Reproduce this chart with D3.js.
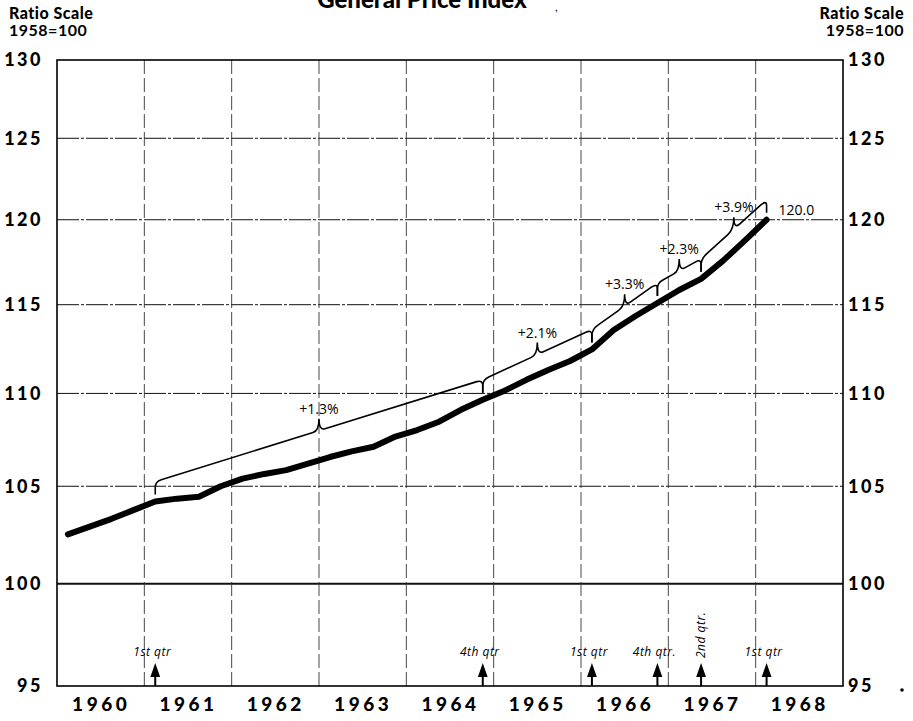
<!DOCTYPE html>
<html>
<head>
<meta charset="utf-8">
<script src="https://cdn.jsdelivr.net/npm/d3@7"></script>
<style>
body { margin: 0; background: #fff; }
svg { font-family: Lato, "Open Sans", sans-serif; }
</style>
</head>
<body>
<script>
//quarterly general price index, 1958=100
var quarters = ["1960 Q1", "1960 Q2", "1960 Q3", "1960 Q4",
                "1961 Q1", "1961 Q2", "1961 Q3", "1961 Q4",
                "1962 Q1", "1962 Q2", "1962 Q3", "1962 Q4",
                "1963 Q1", "1963 Q2", "1963 Q3", "1963 Q4",
                "1964 Q1", "1964 Q2", "1964 Q3", "1964 Q4",
                "1965 Q1", "1965 Q2", "1965 Q3", "1965 Q4",
                "1966 Q1", "1966 Q2", "1966 Q3", "1966 Q4",
                "1967 Q1", "1967 Q2", "1967 Q3", "1967 Q4",
                "1968 Q1"];
var priceIndex = [102.5, 102.9, 103.3, 103.75,
                  104.2, 104.35, 104.45, 105.0,
                  105.4, 105.65, 105.85, 106.2,
                  106.55, 106.85, 107.1, 107.65,
                  108.0, 108.45, 109.1, 109.65,
                  110.15, 110.75, 111.3, 111.8,
                  112.45, 113.55, 114.35, 115.1,
                  115.85, 116.5, 117.55, 118.75,
                  120.0];

//axis ticks
var years = [1960, 1961, 1962, 1963, 1964, 1965, 1966, 1967, 1968];
var yTicks = [95, 100, 105, 110, 115, 120, 125, 130];

//growth-rate braces
var braceFrom = ["1961 Q1", "1964 Q4", "1966 Q1", "1966 Q4", "1967 Q2"];
var braceTo = ["1964 Q4", "1966 Q1", "1966 Q4", "1967 Q2", "1968 Q1"];
var braceLabels = ["+1.3%", "+2.1%", "+3.3%", "+2.3%", "+3.9%"];

//quarter markers along the bottom
var markerQuarters = ["1961 Q1", "1964 Q4", "1966 Q1", "1966 Q4", "1967 Q2", "1968 Q1"];
var markerLabels = ["1st qtr", "4th qtr", "1st qtr", "4th qtr.", "2nd qtr.", "1st qtr"];
var lastLabel = "120.0";

//Width and height
var w = 913;
var h = 721;
var padL = 57, padR = 843, padT = 60, padB = 686;

//quarter string -> middle of the quarter in years
function qTime(q) {
    var p = q.split(" Q");
    return +p[0] + (+p[1] - 0.5) / 4;
}
function valueAt(q) {
    return priceIndex[quarters.indexOf(q)];
}

var x = d3.scaleLinear().domain([1960, 1969]).range([padL, padR]);
var y = d3.scaleLog().domain([95, 130]).range([padB, padT]);

var svg = d3.select("body")
            .append("svg")
            .attr("width", w)
            .attr("height", h);

//horizontal grid
svg.selectAll("line.hgrid")
   .data(yTicks.slice(1, -1))
   .enter()
   .append("line")
   .attr("x1", padL)
   .attr("x2", padR)
   .attr("y1", function(d) { return y(d); })
   .attr("y2", function(d) { return y(d); })
   .attr("stroke", "#111")
   .attr("stroke-width", function(d) { return d === 100 ? 2 : 1; })
   .attr("stroke-dasharray", function(d) { return d === 100 ? null : "22,2,3,2"; });

//vertical grid (year boundaries)
svg.selectAll("line.vgrid")
   .data(years.slice(1))
   .enter()
   .append("line")
   .attr("x1", function(d) { return x(d); })
   .attr("x2", function(d) { return x(d); })
   .attr("y1", padT)
   .attr("y2", padB)
   .attr("stroke", "#333")
   .attr("stroke-width", 0.9)
   .attr("stroke-dasharray", "14,4");

//frame
svg.append("rect")
   .attr("x", padL)
   .attr("y", padT)
   .attr("width", padR - padL)
   .attr("height", padB - padT)
   .attr("fill", "none")
   .attr("stroke", "#000")
   .attr("stroke-width", 1.6);

//axes
var fmt = d3.format("d");
var leftAxis = svg.append("g")
   .attr("transform", "translate(" + padL + ",0)")
   .call(d3.axisLeft(y).tickValues(yTicks).tickFormat(fmt).tickSize(0).tickPadding(14));
var rightAxis = svg.append("g")
   .attr("transform", "translate(" + padR + ",0)")
   .call(d3.axisRight(y).tickValues(yTicks).tickFormat(fmt).tickSize(0).tickPadding(5));
var bottomAxis = svg.append("g")
   .attr("transform", "translate(0," + padB + ")")
   .call(d3.axisBottom(x)
     .tickValues(years.map(function(d) { return d + 0.5; }))
     .tickFormat(function(d) { return Math.floor(d); })
     .tickSize(0).tickPadding(12));

[leftAxis, rightAxis, bottomAxis].forEach(function(g) {
    g.select(".domain").remove();
    g.selectAll("text")
     .attr("font-family", "Lato, sans-serif")
     .attr("font-weight", "900")
     .attr("font-size", "18px")
     .attr("letter-spacing", "2.5px")
     .attr("fill", "#000");
});
bottomAxis.selectAll("text")
   .attr("font-size", "19px")
   .attr("letter-spacing", "3.5px");

//headers
svg.append("text")
   .attr("x", 422).attr("y", 8)
   .attr("text-anchor", "middle")
   .attr("font-weight", "900")
   .attr("font-size", "24px")
   .text("General Price Index");
svg.append("text")
   .attr("x", 555).attr("y", 11)
   .attr("font-size", "12px")
   .text(",");

var heads = [["Ratio Scale", 19], ["1958=100", 36]];
heads.forEach(function(t, i) {
    svg.append("text")
       .attr("x", 9).attr("y", t[1])
       .attr("font-weight", i === 0 ? "900" : "700")
       .attr("font-size", "16px")
       .attr("letter-spacing", "0.5px")
       .text(t[0]);
    svg.append("text")
       .attr("x", 904).attr("y", t[1])
       .attr("text-anchor", "end")
       .attr("font-weight", i === 0 ? "900" : "700")
       .attr("font-size", "16px")
       .attr("letter-spacing", "0.5px")
       .text(t[0]);
});

//stray dot beside the right 95
svg.append("circle")
   .attr("cx", 902).attr("cy", 690).attr("r", 1.8)
   .attr("fill", "#000");

//index line
var line = d3.line()
   .x(function(d, i) { return x(qTime(quarters[i])); })
   .y(function(d) { return y(d); });

svg.append("path")
   .datum(priceIndex)
   .attr("d", line)
   .attr("fill", "none")
   .attr("stroke", "#000")
   .attr("stroke-width", 6)
   .attr("stroke-linejoin", "round")
   .attr("stroke-linecap", "round");

//braces over each period
function bracePath(x1, y1, x2, y2) {
    var t1 = y1 - 20, t2 = y2 - 20;
    var b1 = y1 - 7, b2 = y2 - 7;
    var r = Math.min(6, (x2 - x1) / 8);
    var s = (t2 - t1) / (x2 - x1);
    var xm = (x1 + x2) / 2, tm = (t1 + t2) / 2;
    var ph = 12;
    return "M" + x1 + "," + b1 +
           "L" + x1 + "," + (t1 + r) +
           "Q" + x1 + "," + t1 + " " + (x1 + r) + "," + (t1 + s * r) +
           "L" + (xm - r) + "," + (tm - s * r) +
           "Q" + xm + "," + tm + " " + xm + "," + (tm - ph) +
           "Q" + xm + "," + tm + " " + (xm + r) + "," + (tm + s * r) +
           "L" + (x2 - r) + "," + (t2 - s * r) +
           "Q" + x2 + "," + t2 + " " + x2 + "," + (t2 + r) +
           "L" + x2 + "," + b2;
}

svg.selectAll("path.brace")
   .data(braceLabels)
   .enter()
   .append("path")
   .attr("d", function(d, i) {
        return bracePath(x(qTime(braceFrom[i])), y(valueAt(braceFrom[i])),
                         x(qTime(braceTo[i])), y(valueAt(braceTo[i])));
   })
   .attr("fill", "none")
   .attr("stroke", "#000")
   .attr("stroke-width", 1.6);

svg.selectAll("text.brace")
   .data(braceLabels)
   .enter()
   .append("text")
   .text(function(d) { return d; })
   .attr("x", function(d, i) {
        return (x(qTime(braceFrom[i])) + x(qTime(braceTo[i]))) / 2;
   })
   .attr("y", function(d, i) {
        var t = (y(valueAt(braceFrom[i])) + y(valueAt(braceTo[i]))) / 2 - 20;
        return t - 12 - 5;
   })
   .attr("text-anchor", "middle")
   .attr("font-family", "'Open Sans', sans-serif")
   .attr("font-size", "14px")
   .attr("fill", "#000");

//last value
var lastQ = quarters[quarters.length - 1];
svg.append("text")
   .attr("x", x(qTime(lastQ)) + 12)
   .attr("y", y(valueAt(lastQ)) - 5)
   .attr("font-family", "'Open Sans', sans-serif")
   .attr("font-size", "14px")
   .attr("fill", "#000")
   .text(lastLabel);

//quarter arrows
svg.selectAll("path.arrow")
   .data(markerQuarters)
   .enter()
   .append("path")
   .attr("d", function(d) {
        var ax = x(qTime(d));
        return "M" + ax + "," + padB + "L" + ax + "," + (padB - 12) +
               "M" + (ax - 3.5) + "," + (padB - 10) + "L" + ax + "," + (padB - 20) +
               "L" + (ax + 3.5) + "," + (padB - 10) + "Z";
   })
   .attr("stroke", "#000")
   .attr("stroke-width", 2)
   .attr("fill", "#000");

svg.selectAll("text.qtr")
   .data(markerLabels)
   .enter()
   .append("text")
   .text(function(d) { return d; })
   .attr("transform", function(d, i) {
        var ax = x(qTime(markerQuarters[i]));
        if (d.indexOf("2nd") === 0) {
            return "translate(" + (ax + 4) + "," + (padB - 28) + ") rotate(-90)";
        }
        return "translate(" + (ax - 3) + "," + (padB - 30) + ")";
   })
   .attr("text-anchor", function(d) { return d.indexOf("2nd") === 0 ? "start" : "middle"; })
   .attr("font-family", "'Open Sans', sans-serif")
   .attr("font-style", "italic")
   .attr("font-size", "12px")
   .attr("letter-spacing", "0.5px")
   .attr("fill", "#000");
</script>
</body>
</html>
